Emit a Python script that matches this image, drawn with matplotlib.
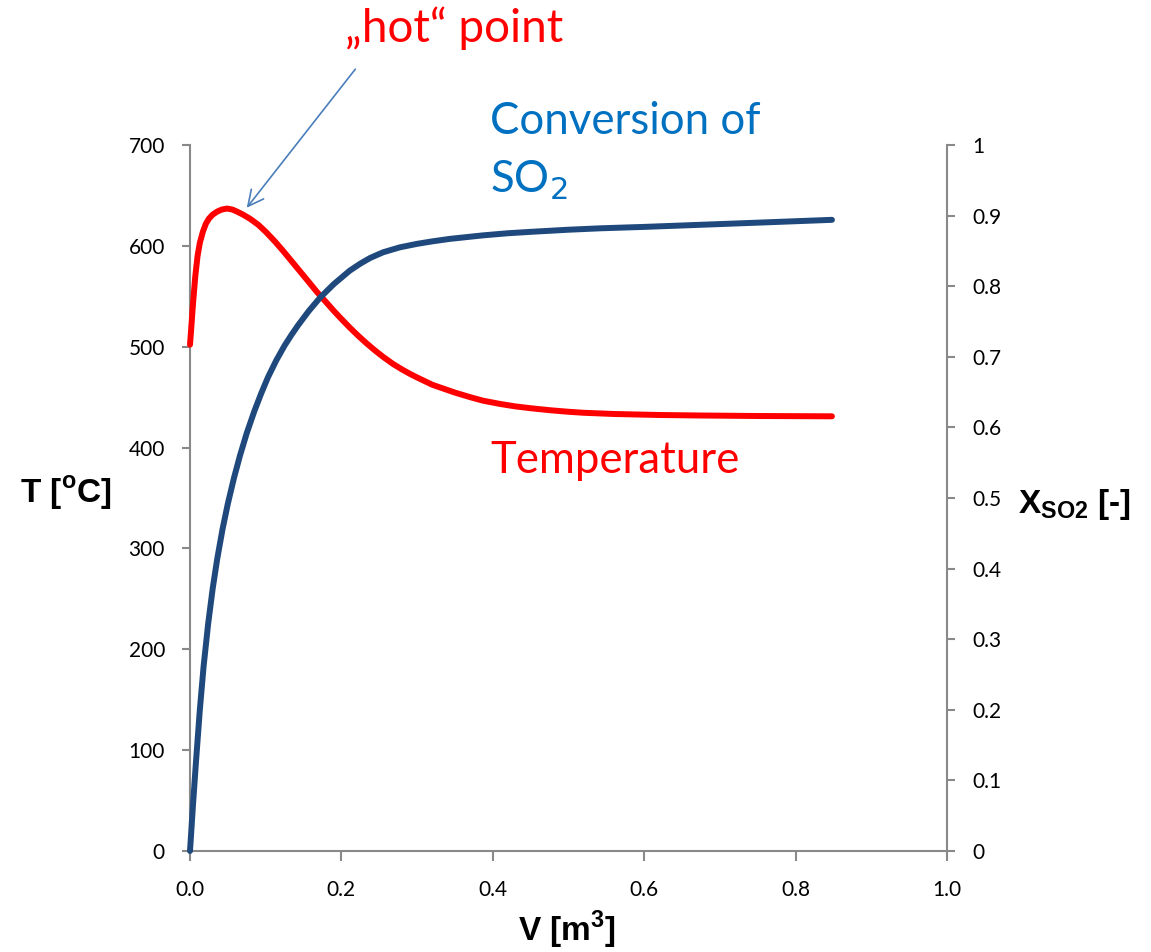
import matplotlib
matplotlib.use("Agg")
import matplotlib.pyplot as plt

plt.rcParams['font.family'] = ['Lato', 'DejaVu Sans']
plt.rcParams['mathtext.fontset'] = 'custom'
plt.rcParams['mathtext.rm'] = 'Liberation Sans:bold'
plt.rcParams['mathtext.bf'] = 'Liberation Sans:bold'

# Temperature profile along reactor volume
v_temp = [0, 0.002, 0.004, 0.007, 0.010, 0.013, 0.017, 0.021, 0.025, 0.030,
          0.036, 0.042, 0.049, 0.056, 0.062, 0.070, 0.079, 0.09, 0.10, 0.112,
          0.123, 0.134, 0.145, 0.156, 0.168, 0.18, 0.19, 0.20, 0.211, 0.222,
          0.233, 0.244, 0.255, 0.268, 0.28, 0.29, 0.30, 0.32, 0.35, 0.37,
          0.387, 0.41, 0.43, 0.45, 0.476, 0.50, 0.52, 0.56, 0.62, 0.674,
          0.75, 0.848]
temp = [502, 522, 543, 570, 590, 603, 614, 622, 627, 631,
        634, 636, 637, 636, 634, 631, 627, 621, 614, 604.5,
        595, 585, 575, 565, 554, 544, 535.5, 527.5, 519, 511,
        503.5, 496.5, 490, 483, 477.5, 473.3, 469.5, 462.3, 454.5, 450,
        446.5, 443.2, 440.8, 439, 437, 435.5, 434.5, 433.3, 432.3, 431.8,
        431.3, 431]

# SO2 conversion along reactor volume
v_conv = [0, 0.004, 0.008, 0.013, 0.018, 0.024, 0.030, 0.036, 0.043, 0.050,
          0.058, 0.066, 0.075, 0.085, 0.094, 0.103, 0.114, 0.125, 0.134, 0.143,
          0.157, 0.172, 0.19, 0.211, 0.225, 0.238, 0.255, 0.277, 0.30, 0.32,
          0.343, 0.365, 0.387, 0.42, 0.45, 0.5, 0.542, 0.6, 0.65, 0.75,
          0.848]
conv = [0, 0.066, 0.128, 0.200, 0.262, 0.322, 0.372, 0.414, 0.456, 0.492,
        0.528, 0.560, 0.592, 0.623, 0.648, 0.671, 0.695, 0.716, 0.731, 0.745,
        0.765, 0.784, 0.803, 0.822, 0.832, 0.840, 0.848, 0.855, 0.860, 0.8635,
        0.867, 0.8695, 0.872, 0.875, 0.877, 0.880, 0.882, 0.884, 0.886, 0.890,
        0.894]

x_ticks = [0.0, 0.2, 0.4, 0.6, 0.8, 1.0]
t_ticks = [0, 100, 200, 300, 400, 500, 600, 700]
c_ticks = [0, 0.1, 0.2, 0.3, 0.4, 0.5, 0.6, 0.7, 0.8, 0.9, 1]

W, H = 1151, 952
fig = plt.figure(figsize=(W / 100, H / 100), dpi=100)
ax = fig.add_axes([190 / W, 1 - 851 / H, (947 - 190) / W, (851 - 145) / H])
ax2 = ax.twinx()

grey = '#898989'
ax.plot(v_temp, temp, color='#FF0000', lw=4.3, solid_capstyle='round',
        solid_joinstyle='round', clip_on=False, zorder=3)
ax2.plot(v_conv, conv, color='#1F497D', lw=4.3, solid_capstyle='round',
         solid_joinstyle='round', clip_on=False, zorder=3)

ax.set_xlim(0, 1.0)
ax.set_ylim(0, 700)
ax2.set_ylim(0, 1)
ax.set_xticks(x_ticks)
ax.set_xticklabels([f"{t:.1f}" for t in x_ticks])
ax.set_yticks(t_ticks)
ax2.set_yticks(c_ticks)
ax2.set_yticklabels(["0", "0.1", "0.2", "0.3", "0.4", "0.5", "0.6", "0.7", "0.8", "0.9", "1"])

for a in (ax, ax2):
    a.spines['top'].set_visible(False)
    for s in ('left', 'right', 'bottom'):
        a.spines[s].set_color(grey)
        a.spines[s].set_linewidth(1.5)
ax.spines['right'].set_visible(False)
ax2.spines['left'].set_visible(False)
ax2.spines['bottom'].set_visible(False)

ax.tick_params(axis='y', length=6, width=1.5, color=grey, labelsize=15, pad=12)
ax.tick_params(axis='x', length=7, width=1.5, color=grey, labelsize=15, pad=14)
ax2.tick_params(axis='y', length=6, width=1.5, color=grey, labelsize=15, pad=12)

lab = dict(fontsize=24, fontweight='bold', family='Liberation Sans', va='center')
fig.text(20 / W, 1 - 493 / H, r'T [$^\mathrm{o}$C]', ha='left', **lab)
fig.text(1018 / W, 1 - 505 / H, r'X$_\mathrm{SO2}$ [-]', ha='left', **lab)
fig.text(567 / W, 1 - 930 / H, r'V [m$^\mathrm{3}$]', ha='center', **lab)

ann = dict(fontsize=31.5, va='center', ha='left')
fig.text(345 / W, 1 - 28 / H, '\u201ehot\u201c point', color='#FF0000',
         fontsize=33, va='center', ha='left')
fig.text(490 / W, 1 - 122 / H, 'Conversion of', color='#0070C0', **ann)
fig.text(490 / W, 1 - 180 / H, r'SO$_2$', color='#0070C0', math_fontfamily='dejavusans', **ann)
fig.text(490 / W, 1 - 460 / H, 'Temperature', color='#FF0000', **ann)

ax.annotate('', xy=(245 / W, 1 - 210 / H), xytext=(357 / W, 1 - 67 / H),
            xycoords='figure fraction', textcoords='figure fraction',
            arrowprops=dict(arrowstyle='->', color='#4A7EBB', lw=1.2, mutation_scale=28))

fig.savefig('out.png', dpi=100)
